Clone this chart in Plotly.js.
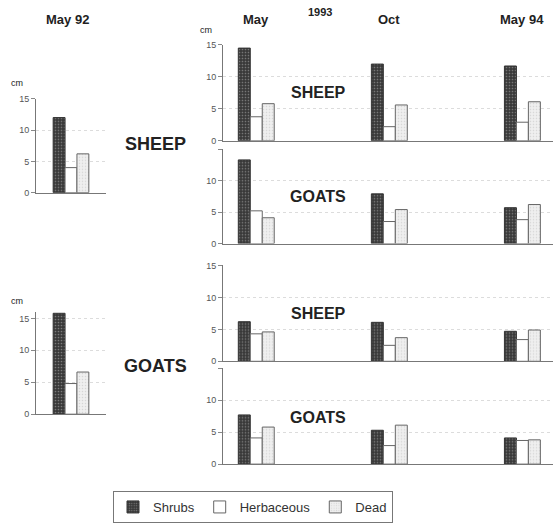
<!DOCTYPE html>
<html><head><meta charset="utf-8">
<script src="https://cdn.plot.ly/plotly-3.0.1.min.js"></script>
<style>html,body{margin:0;padding:0;background:#fff}#chart{width:553px;height:523px}</style>
</head><body><div id="chart"></div>
<script>
// ---- data ----
const months = ['May', 'Oct', 'May 94'];
const baselineMonth = ['May 92'];
const seriesNames = ['Shrubs', 'Herbaceous', 'Dead'];
const yTicks = [0, 5, 10, 15];

// upper block (left label SHEEP)
const may92SheepShrubs = [12.0];
const may92SheepHerb = [4.0];
const may92SheepDead = [6.2];
const upperSheepShrubs = [14.5, 12.0, 11.7];
const upperSheepHerb = [3.75, 2.2, 2.9];
const upperSheepDead = [5.8, 5.6, 6.1];
const upperGoatsShrubs = [13.3, 7.9, 5.7];
const upperGoatsHerb = [5.2, 3.5, 3.8];
const upperGoatsDead = [4.1, 5.4, 6.2];

// lower block (left label GOATS)
const may92GoatsShrubs = [15.8];
const may92GoatsHerb = [4.8];
const may92GoatsDead = [6.6];
const lowerSheepShrubs = [6.2, 6.1, 4.7];
const lowerSheepHerb = [4.3, 2.5, 3.4];
const lowerSheepDead = [4.6, 3.7, 4.9];
const lowerGoatsShrubs = [7.7, 5.3, 4.1];
const lowerGoatsHerb = [4.1, 2.9, 3.7];
const lowerGoatsDead = [5.8, 6.1, 3.8];

// ---- styling ----
const W = 553, H = 523;
const FONT = 'Liberation Sans, Arial, Helvetica, sans-serif';
const px = v => v / W;
const py = v => 1 - v / H;

const styles = {
  Shrubs: {color: '#3a3a3a', line: {color: '#333', width: 1},
           pattern: {shape: '.', fgcolor: '#7a7a7a', bgcolor: '#383838', size: 3, solidity: 0.25}},
  Herbaceous: {color: '#ffffff', line: {color: '#666', width: 1}},
  Dead: {color: '#ececec', line: {color: '#666', width: 1},
         pattern: {shape: '.', fgcolor: '#d6d6d6', bgcolor: '#efefef', size: 3, solidity: 0.2}}
};

function panel(cats, vals, xa, ya, showLegend) {
  return seriesNames.map((name, i) => ({
    type: 'bar', name: name, x: cats, y: vals[i],
    xaxis: xa, yaxis: ya, legendgroup: name, showlegend: showLegend,
    marker: styles[name], hoverinfo: 'y+name'
  }));
}

const data = [].concat(
  panel(baselineMonth, [may92SheepShrubs, may92SheepHerb, may92SheepDead], 'x', 'y', false),
  panel(baselineMonth, [may92GoatsShrubs, may92GoatsHerb, may92GoatsDead], 'x2', 'y2', false),
  panel(months, [upperSheepShrubs, upperSheepHerb, upperSheepDead], 'x3', 'y3', true),
  panel(months, [upperGoatsShrubs, upperGoatsHerb, upperGoatsDead], 'x4', 'y4', false),
  panel(months, [lowerSheepShrubs, lowerSheepHerb, lowerSheepDead], 'x5', 'y5', false),
  panel(months, [lowerGoatsShrubs, lowerGoatsHerb, lowerGoatsDead], 'x6', 'y6', false)
);

function xAx(domain, range, anchor) {
  return {domain: domain, range: range, anchor: anchor, type: 'category',
    showline: true, linecolor: '#777', linewidth: 1, showgrid: false, zeroline: false,
    ticks: '', showticklabels: false, fixedrange: true};
}
function yAx(domain, range, anchor, show15) {
  return {domain: domain, range: range, anchor: anchor,
    tickvals: yTicks, ticktext: yTicks.map(v => (v === 15 && !show15) ? '' : String(v)),
    showline: true, linecolor: '#777', linewidth: 1,
    ticks: 'outside', ticklen: 4, tickcolor: '#888', tickwidth: 1,
    tickfont: {family: FONT, size: 9, color: '#555'},
    showgrid: true, gridcolor: '#dcdcdc', gridwidth: 1, griddash: 'dot', zeroline: false, fixedrange: true};
}

const leftX = [px(36), px(106)];
const rightX = [px(223), 1];
const leftRange = [-0.265, 0.265];
const rightRange = [-0.25, 2.23];

const layout = {
  width: W, height: H,
  margin: {l: 0, r: 0, t: 0, b: 0},
  paper_bgcolor: '#fff', plot_bgcolor: 'rgba(0,0,0,0)',
  font: {family: FONT, color: '#222'},
  barmode: 'group', bargap: 0.73, bargroupgap: 0,
  xaxis: xAx(leftX, leftRange, 'y'),
  yaxis: yAx([py(193), py(99)], [0, 15], 'x', true),
  xaxis2: xAx(leftX, leftRange, 'y2'),
  yaxis2: yAx([py(415), py(312.6)], [0, 16], 'x2', true),
  xaxis3: xAx(rightX, rightRange, 'y3'),
  yaxis3: yAx([py(141), py(45)], [0, 15], 'x3', true),
  xaxis4: xAx(rightX, rightRange, 'y4'),
  yaxis4: yAx([py(244), py(149.5)], [0, 15], 'x4', false),
  xaxis5: xAx(rightX, rightRange, 'y5'),
  yaxis5: yAx([py(362), py(266)], [0, 15], 'x5', true),
  xaxis6: xAx(rightX, rightRange, 'y6'),
  yaxis6: yAx([py(465), py(369)], [0, 15], 'x6', false),
  showlegend: true,
  legend: {orientation: 'h', x: px(113), y: py(492), xanchor: 'left', yanchor: 'top',
    bordercolor: '#777', borderwidth: 1, bgcolor: '#fff',
    font: {family: FONT, size: 13, color: '#333'}, itemwidth: 30, tracegroupgap: 0},
  annotations: []
};

const ann = layout.annotations;
function txt(text, x, y, size, bold, xref) {
  ann.push({text: bold ? '<b>' + text + '</b>' : text, x: x, y: y,
    xref: xref || 'paper', yref: 'paper', xanchor: 'center', yanchor: 'middle',
    showarrow: false, font: {family: FONT, size: size, color: '#222'}});
}
// column headings
txt(baselineMonth[0], px(67), py(20), 13, true);
months.forEach(m => txt(m, m, py(20), 13, true, 'x3'));
txt('1993', px(320), py(12), 11, true);
// units
txt('cm', px(17), py(83), 9, false);
txt('cm', px(17), py(302), 9, false);
txt('cm', px(206), py(30), 9, false);
// block labels
txt('SHEEP', px(155), py(144), 18, true);
txt('GOATS', px(155), py(367), 18, true);
// panel labels
txt('SHEEP', px(318), py(93), 16, true);
txt('GOATS', px(318), py(197), 16, true);
txt('SHEEP', px(318), py(314), 16, true);
txt('GOATS', px(318), py(418), 16, true);

Plotly.newPlot('chart', data, layout, {displayModeBar: false, staticPlot: true});
</script>
</body></html>
